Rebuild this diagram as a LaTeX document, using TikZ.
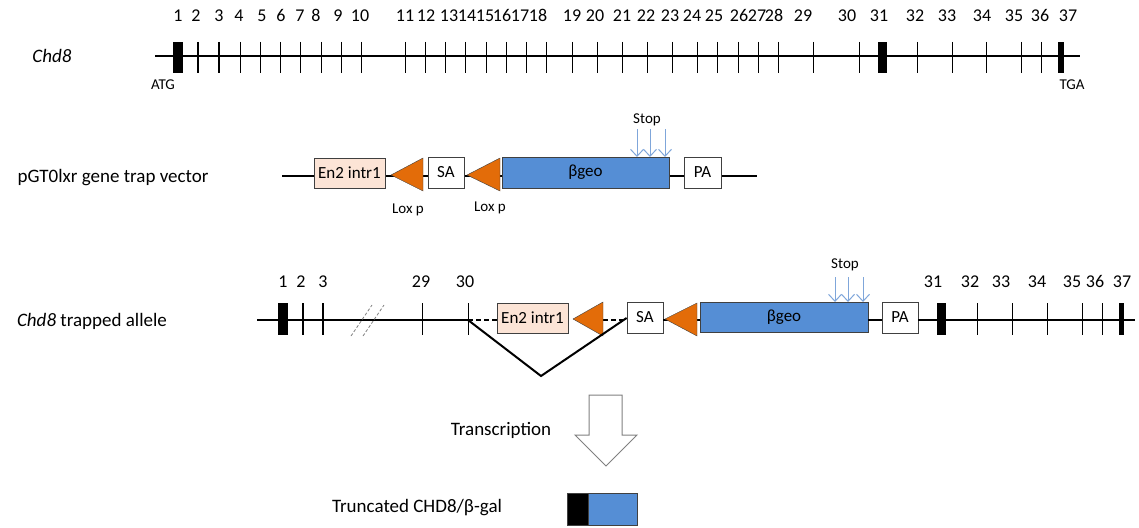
\documentclass[tikz,border=0pt]{standalone}
\usepackage{fontspec}
\setmainfont{Carlito}
\usetikzlibrary{arrows.meta}
\definecolor{peach}{HTML}{FCE4D6}
\definecolor{loxor}{HTML}{E36C09}
\definecolor{geoblue}{HTML}{558ED5}
\definecolor{stopblue}{HTML}{7FA6DA}
\definecolor{boxline}{HTML}{404040}
\begin{document}
\begin{tikzpicture}[x=1pt,y=-1pt,
  backbone/.style={line width=2pt,black},
  thintick/.style={line width=1pt,black},
  boldtick/.style={line width=2pt,black},
  exonblock/.style={fill=black,draw=none},
  elem/.style={draw=boxline,line width=0.8pt,inner sep=0pt,font=\fontsize{17}{20}\selectfont},
  loxtri/.style={fill=loxor,draw=boxline,line width=0.4pt},
  numlab/.style={font=\fontsize{18}{20}\selectfont,anchor=base,inner sep=0pt},
  biglab/.style={font=\fontsize{19}{22}\selectfont,inner sep=0pt},
  smalllab/.style={font=\fontsize{15}{18}\selectfont,inner sep=0pt},
  stoparrow/.style={draw=stopblue,line width=1pt,-{Straight Barb[length=7pt,width=13pt,line width=1pt]}},
  splice/.style={line width=2pt,black,line join=miter},
  dashlink/.style={line width=2pt,black,dash pattern=on 5pt off 3pt},
  breakmark/.style={draw=gray,line width=0.8pt,dash pattern=on 3pt off 2pt}
]
\useasboundingbox (0,0) rectangle (1139,527);

% ===== Row 1: Chd8 gene =====
\node[biglab] (chdlab) at (52,56) {\itshape Chd8};
\coordinate (gL) at (155,56);
\coordinate (gR) at (1080,56);
\draw[backbone] (gL) -- (gR);
\foreach \x in {240,260,280,300,321,341,361,405,425,445,465,486,506,526,546,572,597,622,647,672,697,717,738,758,778,813,859,917,952,986,1021,1041}
  \draw[thintick] (\x,42) -- (\x,73);
\foreach \x in {198,219}
  \draw[boldtick] (\x,42) -- (\x,73);
\fill[exonblock] (173,42) rectangle (183,73);
\fill[exonblock] (878,42) rectangle (887,73);
\fill[exonblock] (1058,42) rectangle (1064,73);
\foreach \x/\t in {178/1,196/2,219/3,239/4,262/5,281/6,300/7,316/8,338/9,360/10,405/11,426/12,449/13,467/14,485/15,502/16,520/17,538/18,572/19,595/20,622/21,646/22,670/23,692/24,714/25,739/26,757/27,774/28,803/29,847/30,879/31,915/32,947/33,982/34,1014/35,1040/36,1068/37}
  \node[numlab] (g\t) at (\x,21.5) {\t};
\node[smalllab] (atg) at (163,85) {ATG};
\node[smalllab] (tga) at (1072,85) {TGA};

% ===== Row 2: vector =====
\node[biglab] (veclab) at (113,178) {pGT0lxr gene trap vector};
\coordinate (vL) at (282,176);
\coordinate (vR) at (757,176);
\draw[backbone] (vL) -- (vR);
\node[elem,fill=peach,minimum width=71pt,minimum height=30pt] (ven) at (349.5,173) {En2 intr1};
\draw[loxtri] (391,175) -- (423,158) -- (423,191) -- cycle;
\node[elem,fill=white,minimum width=36pt,minimum height=31pt] (vsa) at (446,172.5) {SA};
\draw[loxtri] (467,175) -- (500,158) -- (500,191) -- cycle;
\node[elem,fill=geoblue,minimum width=167pt,minimum height=31pt] (vgeo) at (585.5,172.5) {βgeo};
\node[elem,fill=white,minimum width=37pt,minimum height=31pt] (vpa) at (702.5,172.5) {PA};
\node[smalllab] (vlox1) at (408,210) {Lox p};
\node[smalllab] (vlox2) at (490,208) {Lox p};
\node[smalllab] (vstop) at (647,120) {Stop};
\foreach \x in {637,650,665}
  \draw[stoparrow] (\x,129) -- (\x,157);

% ===== Row 3: trapped allele =====
\node[biglab] (traplab) at (92,321) {\itshape Chd8\upshape\ trapped allele};
\coordinate (tL) at (257,320);
\coordinate (t30) at (468,320);
\coordinate (tR) at (1135,320);
\coordinate (vbot) at (541,376);
\draw[backbone] (tL) -- (t30);
\node[elem,fill=peach,minimum width=71pt,minimum height=30pt] (ten) at (532.5,318) {En2 intr1};
\node[elem,fill=white,minimum width=36pt,minimum height=31pt] (tsa) at (645,317.5) {SA};
\node[elem,fill=geoblue,minimum width=168pt,minimum height=30pt] (tgeo) at (784,317) {βgeo};
\node[elem,fill=white,minimum width=36pt,minimum height=31pt] (tpa) at (900,317.5) {PA};
\draw[dashlink] (t30) -- (ten.west |- t30);
\draw[dashlink] (603,320) -- (tsa.west |- t30);
\draw[backbone] (tsa.east |- t30) -- (tgeo.west |- t30);
\draw[backbone] (tgeo.east |- t30) -- (tpa.west |- t30);
\draw[backbone] (tpa.east |- t30) -- (tR);
\draw[loxtri] (573,319) -- (603,302) -- (603,336) -- cycle;
\draw[loxtri] (665,319) -- (697,303) -- (697,336) -- cycle;
\draw[splice] (t30) -- (vbot) -- (tsa.west |- 0,318);
\foreach \x in {422,468,977,1012,1047,1082,1102}
  \draw[thintick] (\x,303) -- (\x,335);
\foreach \x in {303,323}
  \draw[boldtick] (\x,303) -- (\x,335);
\fill[exonblock] (278,303) rectangle (288,335);
\fill[exonblock] (937,303) rectangle (946,335);
\fill[exonblock] (1119,303) rectangle (1124,335);
\draw[breakmark] (351,336) -- (372,305);
\draw[breakmark] (363,336) -- (384,305);
\foreach \x/\t in {283/1,301/2,323/3,421/29,465/30,933/31,970/32,1001/33,1037/34,1072/35,1095/36,1122/37}
  \node[numlab] (t\t) at (\x,287.5) {\t};
\node[smalllab] (tstop) at (845,265) {Stop};
\foreach \x in {835,848,863}
  \draw[stoparrow] (\x,277) -- (\x,302);

% ===== Transcription =====
\draw[draw=gray,line width=1pt,fill=white,line join=miter]
  (589,395) -- (622,395) -- (622,435) -- (637,435) -- (606,466) -- (575,435) -- (589,435) -- cycle;
\node[biglab] (translab) at (501,430) {Transcription};
\node[biglab] (trunclab) at (417,508) {Truncated CHD8/β-gal};
\node[draw=boxline,line width=0.8pt,fill=black,minimum width=21pt,minimum height=32pt,inner sep=0pt] (pblack) at (577.5,509) {};
\node[draw=boxline,line width=0.8pt,fill=geoblue,minimum width=49pt,minimum height=32pt,inner sep=0pt] (pblue) at (612.5,509) {};
\end{tikzpicture}
\end{document}
